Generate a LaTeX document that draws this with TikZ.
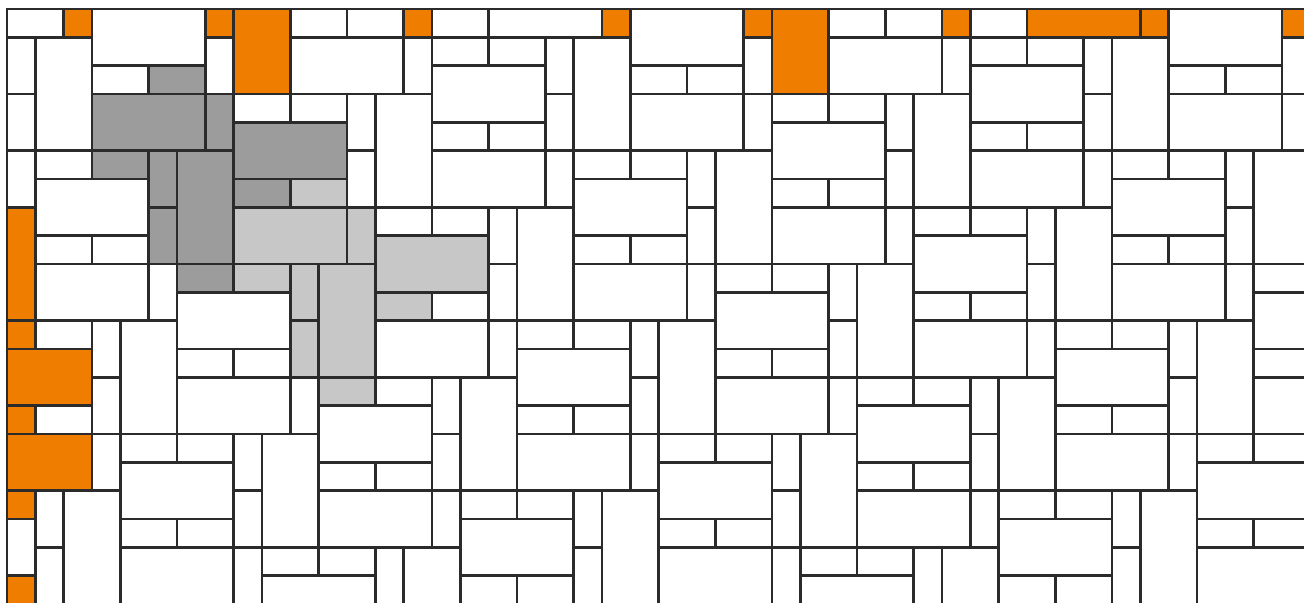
\documentclass[tikz,border=0pt]{standalone}
\usepackage{xcolor}

\definecolor{tileline}{HTML}{2B2B2B}
\definecolor{darkcell}{HTML}{9C9C9C}
\definecolor{lightcell}{HTML}{C7C7C7}
\definecolor{cutcell}{HTML}{EF7D00}

% orange tiles: tile number / lattice step a / lattice step b
\newcommand{\markcut}[3]{\expandafter\def\csname cut@#1@#2@#3\endcsname{}}
\markcut{3}{-1}{0}
\markcut{6}{-1}{1}
\markcut{7}{-1}{1}
\markcut{9}{-1}{2}
\markcut{3}{0}{2}
\markcut{6}{0}{3}
\markcut{7}{0}{3}
\markcut{9}{0}{4}
\markcut{2}{1}{4}
\markcut{3}{1}{4}
\markcut{6}{1}{5}
\markcut{7}{0}{-1}
\markcut{10}{0}{-1}
\markcut{4}{1}{-2}
\markcut{8}{1}{-2}
\markcut{2}{2}{-2}
\markcut{5}{2}{-2}
\markcut{1}{3}{-3}

\begin{document}
\begin{tikzpicture}[x=1cm, y=-1cm,
    tilebox/.style={draw=tileline, line width=2.8pt}]

    % Frame
    \useasboundingbox (-0.247,-0.318) rectangle (45.78,20.96);
    \clip (-0.247,-0.318) rectangle (45.78,20.96);

    % Tiling: one patch of ten tiles, moved by steps (5,4) and (7,-2)
    \foreach \ia in {-3,...,7}{
        \foreach \ib in {-5,...,7}{
            \foreach \tx/\ty/\tw/\th [count=\k] in
                {5/2/2/1, 3/3/4/2, 7/3/1/2, 8/4/4/2, 3/5/2/1,
                 5/5/1/2, 6/5/2/4, 8/6/2/1, 5/7/1/2, 6/9/2/1}{
                \pgfmathtruncatemacro{\xa}{max(\tx+5*\ia+7*\ib,0)}
                \pgfmathtruncatemacro{\ya}{max(\ty+4*\ia-2*\ib,0)}
                \pgfmathtruncatemacro{\xb}{min(\tx+\tw+5*\ia+7*\ib,47)}
                \pgfmathtruncatemacro{\yb}{min(\ty+\th+4*\ia-2*\ib,22)}
                \def\cellcol{white}
                \ifnum\ia=0 \ifnum\ib=0 \def\cellcol{darkcell}\fi\fi
                \ifnum\ia=1 \ifnum\ib=0 \def\cellcol{lightcell}\fi\fi
                \ifcsname cut@\k @\ia @\ib\endcsname \def\cellcol{cutcell}\fi
                \ifnum\xa<\xb \ifnum\ya<\yb
                    \filldraw[tilebox, fill=\cellcol] (\xa,\ya) rectangle (\xb,\yb);
                \fi\fi
            }
        }
    }

\end{tikzpicture}
\end{document}
